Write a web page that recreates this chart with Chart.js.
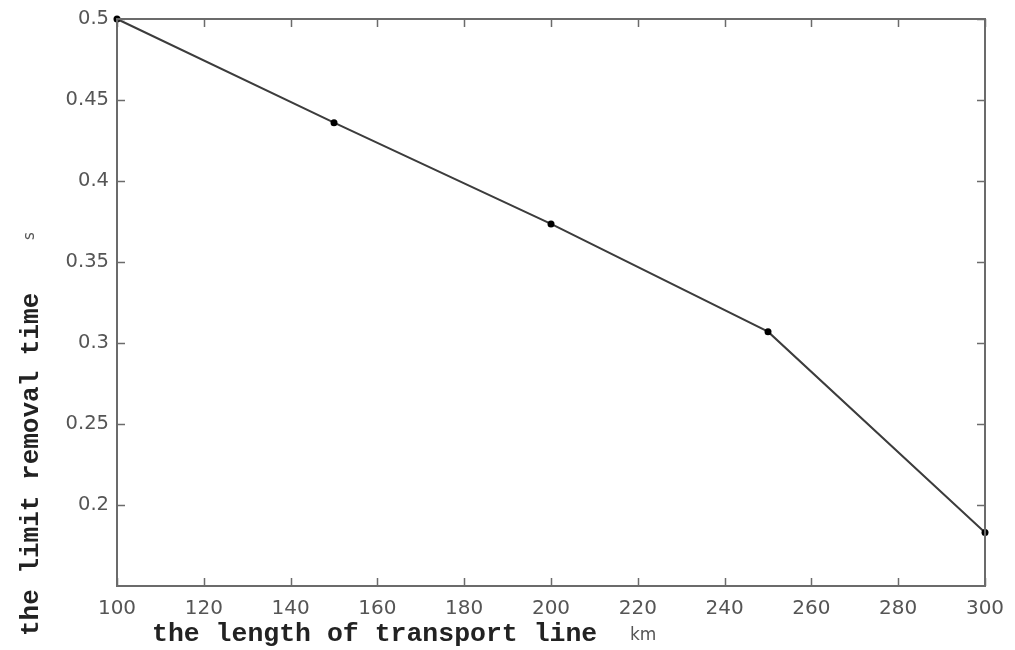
<!DOCTYPE html>
<html>
<head>
<meta charset="utf-8">
<title>limit removal time</title>
<script src="https://cdn.jsdelivr.net/npm/chart.js"></script>
<style>
  body { margin: 0; background: #ffffff; }
  canvas { display: block; }
</style>
</head>
<body>
<canvas id="timeChart" width="1015" height="650"></canvas>
<script>
// line length (km) vs. limit removal time (s)
const lengths = [100, 150, 200, 250, 300];
const removalTimes = [0.5, 0.436, 0.3735, 0.307, 0.183];
const xTicks = [100, 120, 140, 160, 180, 200, 220, 240, 260, 280, 300];
const yTicks = [0.2, 0.25, 0.3, 0.35, 0.4, 0.45, 0.5];

const axisGrey = '#6b6b6b';
const labelGrey = '#555555';

// frame, inward ticks and the axis titles
const framePlugin = {
  id: 'frame',
  afterDraw(chart) {
    const { ctx, chartArea: a, scales: { x, y } } = chart;
    ctx.save();
    ctx.strokeStyle = axisGrey;
    ctx.lineWidth = 2;
    ctx.strokeRect(a.left, a.top, a.right - a.left, a.bottom - a.top);

    ctx.lineWidth = 1.5;
    ctx.beginPath();
    xTicks.forEach(v => {
      const px = Math.round(x.getPixelForValue(v)) + 0.5;
      ctx.moveTo(px, a.bottom); ctx.lineTo(px, a.bottom - 8);
      ctx.moveTo(px, a.top); ctx.lineTo(px, a.top + 8);
    });
    yTicks.forEach(v => {
      const py = Math.round(y.getPixelForValue(v)) + 0.5;
      ctx.moveTo(a.left, py); ctx.lineTo(a.left + 8, py);
      ctx.moveTo(a.right, py); ctx.lineTo(a.right - 8, py);
    });
    ctx.stroke();

    // x title
    ctx.fillStyle = '#222222';
    ctx.textBaseline = 'alphabetic';
    ctx.textAlign = 'left';
    ctx.font = 'bold 26.5px "Liberation Mono", monospace';
    ctx.fillText('the length of transport line', 152, 641);
    ctx.fillStyle = labelGrey;
    ctx.font = '17px "DejaVu Sans", sans-serif';
    ctx.fillText('km', 630, 640);

    // y title, rotated
    ctx.translate(38, 636);
    ctx.rotate(-Math.PI / 2);
    ctx.fillStyle = '#222222';
    ctx.font = 'bold 26px "Liberation Mono", monospace';
    ctx.fillText('the limit removal time', 0, 0);
    ctx.fillStyle = labelGrey;
    ctx.font = '15px "DejaVu Sans", sans-serif';
    ctx.fillText('s', 396, -4);
    ctx.restore();
  }
};

new Chart(document.getElementById('timeChart'), {
  type: 'line',
  data: {
    datasets: [{
      data: lengths.map((v, i) => ({ x: v, y: removalTimes[i] })),
      borderColor: '#3c3c3c',
      borderWidth: 2,
      pointRadius: 3.5,
      pointBackgroundColor: '#000000',
      pointBorderColor: '#000000',
      pointBorderWidth: 0,
      tension: 0,
      clip: false
    }]
  },
  options: {
    responsive: false,
    animation: false,
    layout: { padding: { top: 19, right: 30, left: 0, bottom: 0 } },
    plugins: { legend: { display: false }, tooltip: { enabled: false } },
    scales: {
      x: {
        type: 'linear',
        min: 100,
        max: 300,
        afterBuildTicks: s => { s.ticks = xTicks.map(v => ({ value: v })); },
        afterFit: s => { s.height = 64; },
        grid: { display: false },
        border: { display: false },
        ticks: {
          color: labelGrey,
          padding: 3,
          maxRotation: 0,
          font: { family: 'DejaVu Sans', size: 20 },
          callback: v => String(v)
        }
      },
      y: {
        min: 0.15,
        max: 0.5,
        afterBuildTicks: s => { s.ticks = yTicks.map(v => ({ value: v })); },
        afterFit: s => { s.width = 117; },
        grid: { display: false },
        border: { display: false },
        ticks: {
          color: labelGrey,
          padding: 0,
          font: { family: 'DejaVu Sans', size: 19.5 },
          callback: v => String(Math.round(v * 100) / 100)
        }
      }
    }
  },
  plugins: [framePlugin]
});
</script>
</body>
</html>
